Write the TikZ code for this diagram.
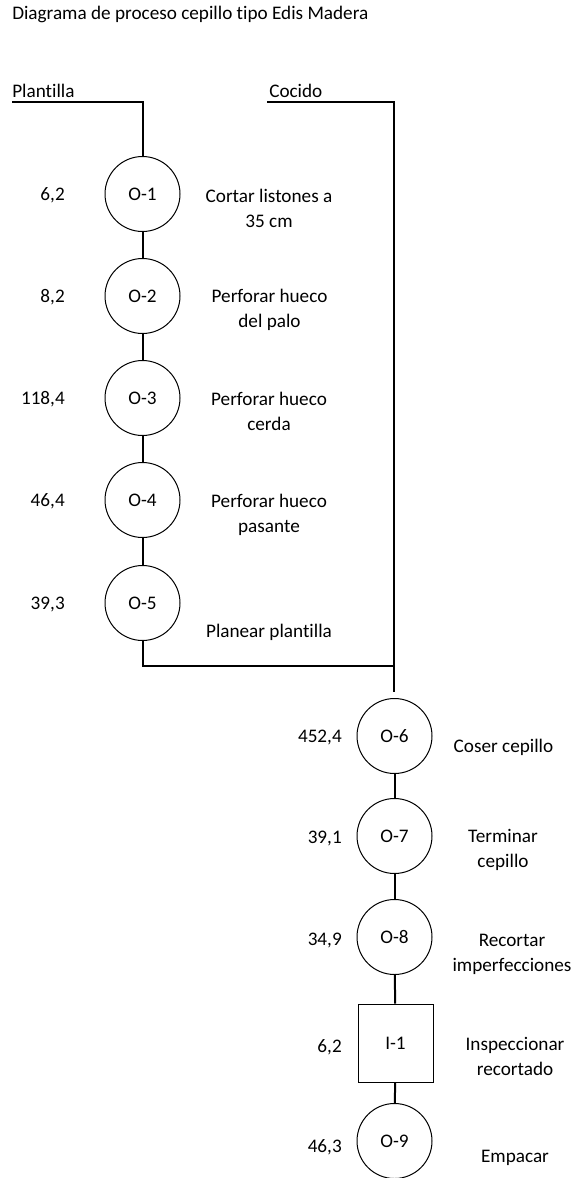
\documentclass[tikz,border=0pt]{standalone}
\usepackage{fontspec}
\setmainfont[Ligatures={NoCommon,NoContextual}]{Carlito}
\usetikzlibrary{positioning}

\begin{document}
\begin{tikzpicture}[x=0.75pt, y=-0.75pt,
    font=\fontsize{14.4}{18.75}\selectfont,
    op/.style={circle, draw, line width=0.75pt, minimum size=56.25pt, inner sep=0pt},
    insp/.style={rectangle, draw, line width=0.75pt, minimum width=56.25pt, minimum height=58.5pt, inner sep=0pt},
    tiempo/.style={anchor=base east, inner sep=0pt},
    tarea/.style={align=center, inner sep=0pt},
    rotulo/.style={anchor=base west, inner sep=0pt},
    linea/.style={line width=1.5pt}]
    \useasboundingbox (0,0) rectangle (579,1178);

    % Titulo y entradas
    \node[rotulo] (titulo) at (12,19.5) {Diagrama de proceso cepillo tipo Edis Madera};
    \node[rotulo] (plantilla) at (12,97) {Plantilla};
    \node[rotulo] (cocido) at (269,97) {Cocido};
    \coordinate (pl0) at (12,102);
    \coordinate (co0) at (267,102);

    % Linea de la plantilla
    \node[op] (o1) at (142.5,194) {O-1};
    \node[op] (o2) at (142.5,296) {O-2};
    \node[op] (o3) at (142.5,398) {O-3};
    \node[op] (o4) at (142.5,500) {O-4};
    \node[op] (o5) at (142.5,603) {O-5};

    \node[tiempo] (t1) at (65,200.5) {6,2};
    \node[tiempo] (t2) at (65,302.5) {8,2};
    \node[tiempo] (t3) at (65,404.5) {118,4};
    \node[tiempo] (t4) at (65,506.5) {46,4};
    \node[tiempo] (t5) at (65,609.5) {39,3};

    \node[tarea] (d1) at (269,208) {Cortar listones a\\35 cm};
    \node[tarea] (d2) at (269.5,310) {Perforar hueco\\del palo};
    \node[tarea] (d3) at (269,411.5) {Perforar hueco\\cerda};
    \node[tarea] (d4) at (269,514.5) {Perforar hueco\\pasante};
    \node[tarea] (d5) at (269,632) {Planear plantilla};

    % Linea del cepillo
    \node[op] (o6) at (394.5,736) {O-6};
    \node[op] (o7) at (394.5,836) {O-7};
    \node[op] (o8) at (394.5,937) {O-8};
    \node[insp] (i1) at (395.5,1043) {I-1};
    \node[op] (o9) at (394.5,1141) {O-9};

    \node[tiempo] (t6) at (342,742) {452,4};
    \node[tiempo] (t7) at (342,843) {39,1};
    \node[tiempo] (t8) at (342,945) {34,9};
    \node[tiempo] (t9) at (342,1052) {6,2};
    \node[tiempo] (t10) at (342,1152) {46,3};

    \node[tarea] (d6) at (503.5,747) {Coser cepillo};
    \node[tarea] (d7) at (503,850) {Terminar\\cepillo};
    \node[tarea] (d8) at (512,954) {Recortar\\imperfecciones};
    \node[tarea] (d9) at (515,1056.5) {Inspeccionar\\recortado};
    \node[tarea] (d10) at (515,1158) {Empacar};

    % Conectores
    \coordinate (union) at (394,666);
    \coordinate (co1) at (394,692);
    \draw[linea] (pl0) -| (o1.north);
    \draw[linea] (co0) -| (co1);
    \draw[linea] (o5.south) |- (union);
    \draw[linea] (o1) -- (o2);
    \draw[linea] (o2) -- (o3);
    \draw[linea] (o3) -- (o4);
    \draw[linea] (o4) -- (o5);
    \draw[linea] (o6) -- (o7);
    \draw[linea] (o7) -- (o8);
    \draw[linea] (o8) -- (i1);
    \draw[linea] (i1) -- (o9);
\end{tikzpicture}
\end{document}
